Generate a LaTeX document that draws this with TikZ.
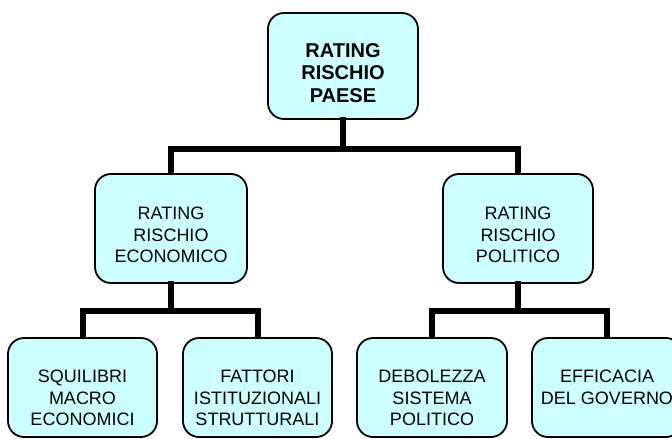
\documentclass[tikz,border=0pt]{standalone}
\usepackage{fontspec}
\setmainfont{Liberation Sans}
\definecolor{boxfill}{HTML}{CCFFFF}
\tikzset{
  box/.style={draw=black, line width=1.8pt, fill=boxfill, rounded corners=16pt, inner sep=0pt},
  txt/.style={align=center, inner sep=0pt, font=\fontsize{18}{21.5}\selectfont},
  btxt/.style={align=center, inner sep=0pt, font=\fontsize{20}{22.5}\selectfont\bfseries},
  conn/.style={draw=black, line width=6pt, line join=miter, line cap=rect}
}
\begin{document}
\begin{tikzpicture}[x=1pt,y=1pt]
\useasboundingbox (0,0) rectangle (672,-439);
\node[box, minimum width=150pt, minimum height=106pt] (top) at (343,-66) {};
\node[box, minimum width=152pt, minimum height=109pt] (midL) at (171,-228.5) {};
\node[box, minimum width=150pt, minimum height=109pt] (midR) at (518,-228.5) {};
\node[box, minimum width=149pt, minimum height=99pt] (b1) at (82.5,-387.5) {};
\node[box, minimum width=149pt, minimum height=99pt] (b2) at (257.5,-387.5) {};
\node[box, minimum width=150pt, minimum height=99pt] (b3) at (432,-387.5) {};
\node[box, minimum width=150pt, minimum height=99pt] (b4) at (607,-387.5) {};
\draw[conn] (top.south) -- ++(0,-29);
\draw[conn] ([yshift=1pt]midL.north) |- ([yshift=-29pt]top.south) -| ([yshift=1pt]midR.north);
\draw[conn] (midL.south) -- ++(0,-27);
\draw[conn] ([yshift=1pt]b1.north) |- ([yshift=-27pt]midL.south) -| ([yshift=1pt]b2.north);
\draw[conn] (midR.south) -- ++(0,-27);
\draw[conn] ([yshift=1pt]b3.north) |- ([yshift=-27pt]midR.south) -| ([yshift=1pt]b4.north);
\node[btxt] (topT) at (343,-73) {RATING\\RISCHIO\\PAESE};
\node[txt] (midLT) at (171,-235) {RATING\\RISCHIO\\ECONOMICO};
\node[txt] (midRT) at (518,-235) {RATING\\RISCHIO\\POLITICO};
\node[txt, anchor=north] (b1T) at (82.5,-370) {SQUILIBRI\\MACRO\\ECONOMICI};
\node[txt, anchor=north] (b2T) at (257.5,-370) {FATTORI\\ISTITUZIONALI\\STRUTTURALI};
\node[txt, anchor=north] (b3T) at (432,-370) {DEBOLEZZA\\SISTEMA\\POLITICO};
\node[txt, anchor=north] (b4T) at (607,-370) {EFFICACIA\\DEL GOVERNO};
\end{tikzpicture}
\end{document}
